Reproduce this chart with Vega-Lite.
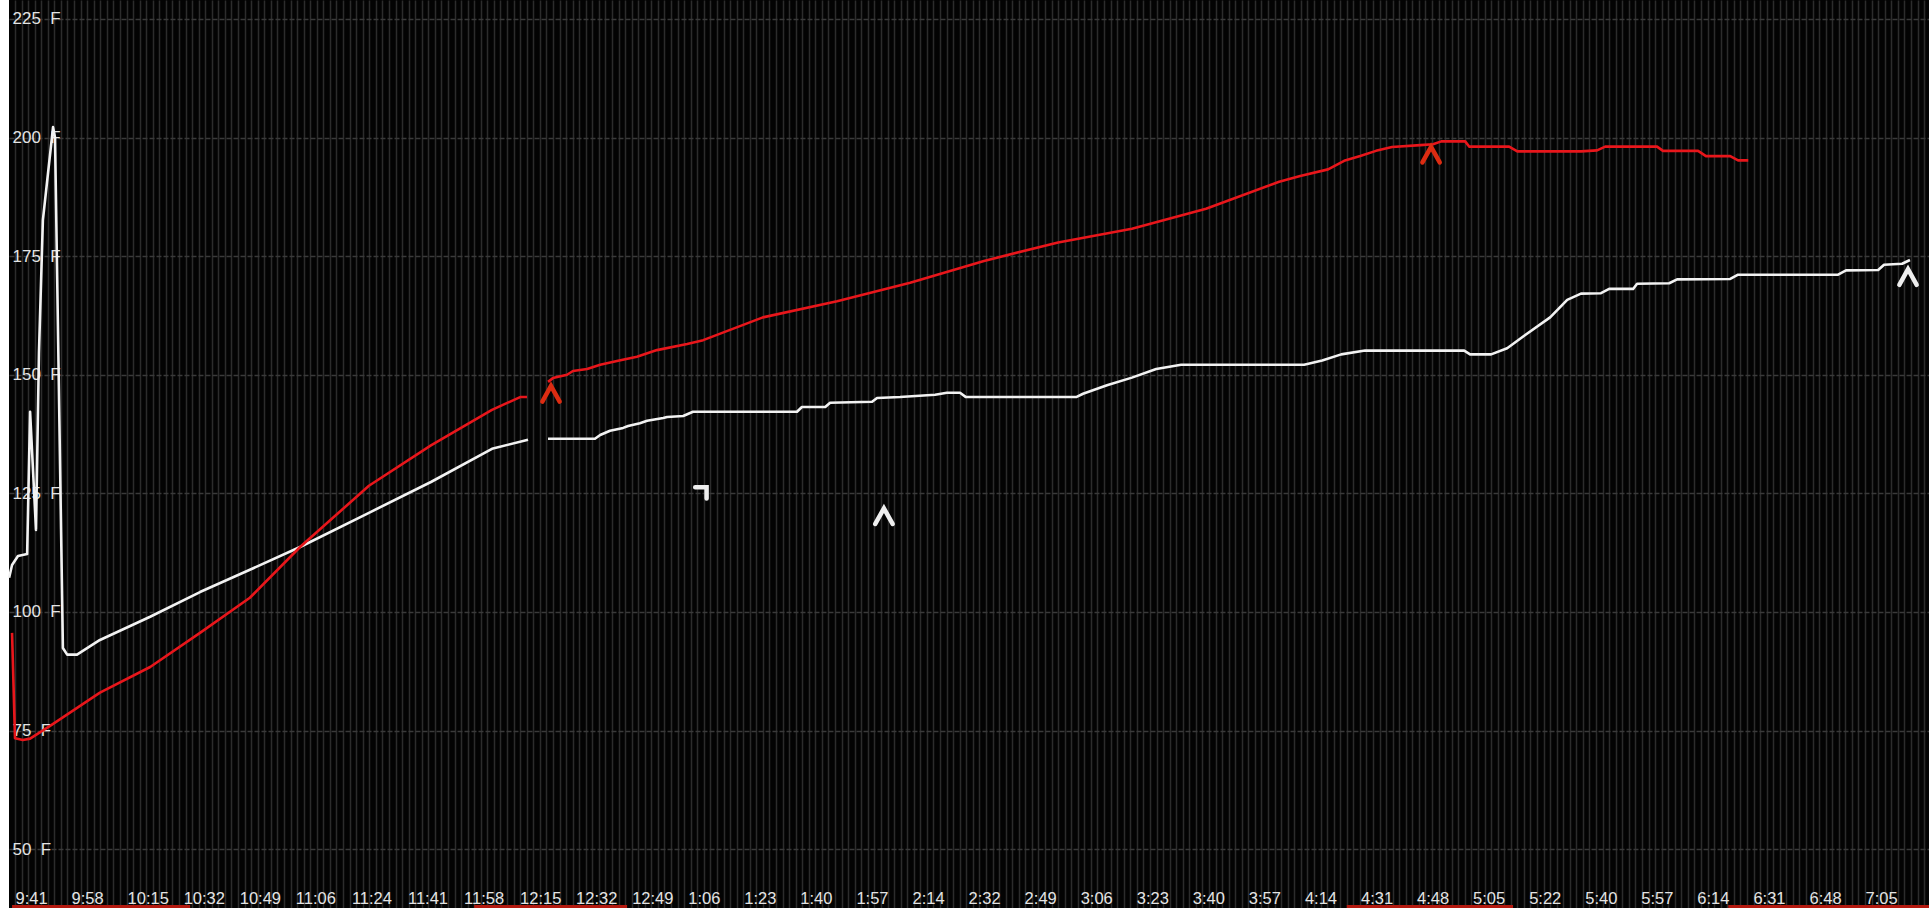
{
  "$schema": "https://vega.github.io/schema/vega-lite/v6.json",
  "width": 1920,
  "height": 908,
  "autosize": {"type": "none"},
  "padding": {"left": 9, "top": 0, "right": 0, "bottom": 0},
  "background": "#ffffff",
  "config": {"view": {"stroke": null, "fill": "#030303"}},
  "datasets": {
    "probes": [
      {"s":"white","g":"w1","m":-1.8,"v":107.2},{"s":"white","g":"w1","m":-0.9,"v":109.9},{"s":"white","g":"w1","m":0.9,"v":111.8},{"s":"white","g":"w1","m":3.7,"v":112.2},{"s":"white","g":"w1","m":4.6,"v":142.2},{"s":"white","g":"w1","m":6.4,"v":117.3},{"s":"white","g":"w1","m":7.3,"v":154.6},{"s":"white","g":"w1","m":8.5,"v":182.6},{"s":"white","g":"w1","m":11.6,"v":202.2},{"s":"white","g":"w1","m":12.2,"v":200},{"s":"white","g":"w1","m":14.6,"v":92.4},{"s":"white","g":"w1","m":15.9,"v":91},{"s":"white","g":"w1","m":18.9,"v":91},{"s":"white","g":"w1","m":25.9,"v":94.1},{"s":"white","g":"w1","m":41.2,"v":99},{"s":"white","g":"w1","m":56.4,"v":104.2},{"s":"white","g":"w1","m":71.6,"v":108.9},{"s":"white","g":"w1","m":86.9,"v":113.7},{"s":"white","g":"w1","m":107.9,"v":120.9},{"s":"white","g":"w1","m":126.8,"v":127.4},{"s":"white","g":"w1","m":145.4,"v":134.4},{"s":"white","g":"w1","m":156.4,"v":136.3},
      {"s":"white","g":"w2","m":162.5,"v":136.5},{"s":"white","g":"w2","m":176.8,"v":136.5},{"s":"white","g":"w2","m":178.4,"v":137.3},{"s":"white","g":"w2","m":181.4,"v":138.2},{"s":"white","g":"w2","m":185.4,"v":138.8},{"s":"white","g":"w2","m":186.9,"v":139.2},{"s":"white","g":"w2","m":190.5,"v":139.8},{"s":"white","g":"w2","m":192.7,"v":140.3},{"s":"white","g":"w2","m":197.6,"v":140.9},{"s":"white","g":"w2","m":198.8,"v":141.1},{"s":"white","g":"w2","m":203.7,"v":141.3},{"s":"white","g":"w2","m":206.7,"v":142.2},{"s":"white","g":"w2","m":238.4,"v":142.2},{"s":"white","g":"w2","m":239.9,"v":143.2},{"s":"white","g":"w2","m":247,"v":143.2},{"s":"white","g":"w2","m":248.5,"v":144.1},{"s":"white","g":"w2","m":261.3,"v":144.3},{"s":"white","g":"w2","m":262.8,"v":145.1},{"s":"white","g":"w2","m":269.8,"v":145.3},{"s":"white","g":"w2","m":280.5,"v":145.8},{"s":"white","g":"w2","m":284.1,"v":146.2},{"s":"white","g":"w2","m":288.1,"v":146.2},{"s":"white","g":"w2","m":289.9,"v":145.3},{"s":"white","g":"w2","m":323.5,"v":145.3},{"s":"white","g":"w2","m":325.6,"v":146},{"s":"white","g":"w2","m":332.9,"v":147.8},{"s":"white","g":"w2","m":340.5,"v":149.4},{"s":"white","g":"w2","m":347.9,"v":151.2},{"s":"white","g":"w2","m":355.5,"v":152.1},{"s":"white","g":"w2","m":393,"v":152.1},{"s":"white","g":"w2","m":398.5,"v":153},{"s":"white","g":"w2","m":404.3,"v":154.3},{"s":"white","g":"w2","m":411.6,"v":155.1},{"s":"white","g":"w2","m":441.8,"v":155.1},{"s":"white","g":"w2","m":443.6,"v":154.3},{"s":"white","g":"w2","m":450,"v":154.3},{"s":"white","g":"w2","m":454.9,"v":155.6},{"s":"white","g":"w2","m":460.4,"v":158.4},{"s":"white","g":"w2","m":468,"v":162.1},{"s":"white","g":"w2","m":473.2,"v":165.8},{"s":"white","g":"w2","m":477.4,"v":167.1},{"s":"white","g":"w2","m":483.5,"v":167.2},{"s":"white","g":"w2","m":486,"v":168.1},{"s":"white","g":"w2","m":493.3,"v":168.1},{"s":"white","g":"w2","m":494.5,"v":169.2},{"s":"white","g":"w2","m":504.3,"v":169.3},{"s":"white","g":"w2","m":506.7,"v":170.1},{"s":"white","g":"w2","m":522.9,"v":170.2},{"s":"white","g":"w2","m":525.3,"v":171.1},{"s":"white","g":"w2","m":555.8,"v":171.1},{"s":"white","g":"w2","m":558.2,"v":172},{"s":"white","g":"w2","m":568,"v":172.1},{"s":"white","g":"w2","m":569.8,"v":173.2},{"s":"white","g":"w2","m":575.3,"v":173.4},{"s":"white","g":"w2","m":577.7,"v":174.2},
      {"s":"red","g":"r1","m":-0.9,"v":95.6},{"s":"red","g":"r1","m":0,"v":73.4},{"s":"red","g":"r1","m":2.4,"v":73},{"s":"red","g":"r1","m":4.6,"v":73.3},{"s":"red","g":"r1","m":10.7,"v":76},{"s":"red","g":"r1","m":25.9,"v":83},{"s":"red","g":"r1","m":41.2,"v":88.4},{"s":"red","g":"r1","m":56.4,"v":95.6},{"s":"red","g":"r1","m":71.6,"v":103},{"s":"red","g":"r1","m":86.9,"v":113.7},{"s":"red","g":"r1","m":107.9,"v":126.6},{"s":"red","g":"r1","m":126.8,"v":135.1},{"s":"red","g":"r1","m":145.4,"v":142.6},{"s":"red","g":"r1","m":154,"v":145.3},{"s":"red","g":"r1","m":156.1,"v":145.3},
      {"s":"red","g":"r2","m":162.5,"v":148.5},{"s":"red","g":"r2","m":164,"v":149.3},{"s":"red","g":"r2","m":168.3,"v":150},{"s":"red","g":"r2","m":170.1,"v":150.8},{"s":"red","g":"r2","m":174.4,"v":151.2},{"s":"red","g":"r2","m":178.4,"v":152.1},{"s":"red","g":"r2","m":183.5,"v":152.9},{"s":"red","g":"r2","m":189.6,"v":153.8},{"s":"red","g":"r2","m":195.7,"v":155.2},{"s":"red","g":"r2","m":204.9,"v":156.5},{"s":"red","g":"r2","m":209.8,"v":157.3},{"s":"red","g":"r2","m":228,"v":162.1},{"s":"red","g":"r2","m":250.6,"v":165.5},{"s":"red","g":"r2","m":272.9,"v":169.4},{"s":"red","g":"r2","m":295.4,"v":174},{"s":"red","g":"r2","m":318,"v":177.9},{"s":"red","g":"r2","m":340.5,"v":180.8},{"s":"red","g":"r2","m":363.1,"v":185},{"s":"red","g":"r2","m":385.4,"v":190.7},{"s":"red","g":"r2","m":391.8,"v":191.9},{"s":"red","g":"r2","m":400.3,"v":193.3},{"s":"red","g":"r2","m":405.2,"v":195.1},{"s":"red","g":"r2","m":410.1,"v":196.1},{"s":"red","g":"r2","m":414.9,"v":197.2},{"s":"red","g":"r2","m":419.8,"v":198},{"s":"red","g":"r2","m":428.4,"v":198.4},{"s":"red","g":"r2","m":432.3,"v":198.6},{"s":"red","g":"r2","m":434.8,"v":199.2},{"s":"red","g":"r2","m":442.1,"v":199.2},{"s":"red","g":"r2","m":443.3,"v":198.1},{"s":"red","g":"r2","m":455.5,"v":198.1},{"s":"red","g":"r2","m":458,"v":197.1},{"s":"red","g":"r2","m":477.4,"v":197.1},{"s":"red","g":"r2","m":482.3,"v":197.3},{"s":"red","g":"r2","m":484.8,"v":198.1},{"s":"red","g":"r2","m":500.6,"v":198.1},{"s":"red","g":"r2","m":502.4,"v":197.2},{"s":"red","g":"r2","m":513.1,"v":197.2},{"s":"red","g":"r2","m":515.5,"v":196.1},{"s":"red","g":"r2","m":522.9,"v":196.1},{"s":"red","g":"r2","m":525.3,"v":195.2},{"s":"red","g":"r2","m":528.4,"v":195.2}
    ],
    "events": [
      {"s":"redmark","k":"caret","m":163.4,"v":146},
      {"s":"redmark","k":"caret","m":431.7,"v":196.4},
      {"s":"whitemark","k":"corner","m":209.1,"v":125.1},
      {"s":"whitemark","k":"caret","m":264.9,"v":120.2},
      {"s":"whitemark","k":"caret","m":577.1,"v":170.6}
    ],
    "ranges": [
      {"start": -0.9, "end": 53.4, "v": 37.6},
      {"start": 140, "end": 186.6, "v": 37.6},
      {"start": 406, "end": 456.7, "v": 37.6},
      {"start": 522.3, "end": 583.5, "v": 37.6}
    ]
  },
  "layer": [
    {
      "data": {"name": "probes"},
      "mark": {"type": "line", "strokeWidth": 2.6, "strokeJoin": "round"},
      "encoding": {
        "x": {
          "field": "m", "type": "quantitative",
          "scale": {"domain": [-1.83, 583.5], "nice": false, "zero": false},
          "axis": {
            "title": null, "grid": false, "ticks": false, "domain": false,
            "values": [0,17.09,34.18,51.27,68.36,85.45,102.55,119.64,136.73,153.82,170.91,188,205.09,222.18,239.27,256.36,273.45,290.55,307.64,324.73,341.82,358.91,376,393.09,410.18,427.27,444.36,461.45,478.55,495.64,512.73,529.82,546.91,564],
            "labelExpr": "(floor((round(datum.value)+581)/60)%12==0?12:floor((round(datum.value)+581)/60)%12) + ':' + ((round(datum.value)+581)%60<10?'0':'') + ((round(datum.value)+581)%60)",
            "labelAlign": "left", "labelBaseline": "alphabetic", "labelPadding": -5,
            "labelFont": "Liberation Sans", "labelFontSize": 16.5, "labelColor": "#e4e4e4",
            "labelOverlap": false, "labelFlush": false, "labelBound": false
          }
        },
        "y": {
          "field": "v", "type": "quantitative",
          "scale": {"domain": [37.6, 229], "nice": false, "zero": false},
          "axis": {
            "title": null, "ticks": false, "domain": false, "zindex": 0,
            "values": [50,75,100,125,150,175,200,225],
            "labelExpr": "datum.value + '\u00a0\u00a0F'",
            "labelAlign": "left", "labelPadding": -3,
            "labelFont": "Liberation Sans", "labelFontSize": 17, "labelColor": "#e4e4e4",
            "labelOverlap": false, "labelFlush": false, "labelBound": false,
            "grid": true, "gridColor": "#3a3a3a", "gridWidth": 1.5, "gridDash": [5, 2]
          }
        },
        "color": {
          "field": "s", "type": "nominal",
          "scale": {"domain": ["red", "white", "redmark", "whitemark"], "range": ["#e8161b", "#f2f2f2", "#dc2c12", "#eeeeee"]},
          "legend": null
        },
        "detail": {"field": "g", "type": "nominal"}
      }
    },
    {
      "data": {"name": "ranges"},
      "mark": {"type": "rule", "strokeWidth": 6, "color": "#b3190f"},
      "encoding": {
        "x": {"field": "start", "type": "quantitative", "axis": null},
        "x2": {"field": "end"},
        "y": {"field": "v", "type": "quantitative"}
      }
    },
    {
      "data": {"name": "events"},
      "mark": {"type": "point", "filled": false, "strokeWidth": 4.5, "strokeCap": "round", "strokeJoin": "miter", "opacity": 1},
      "encoding": {
        "x": {
          "field": "m", "type": "quantitative",
          "axis": {
            "orient": "top", "title": null, "labels": false, "ticks": false, "domain": false,
            "grid": true, "tickCount": 290, "gridColor": "#2c2c2c", "gridWidth": 1.5
          }
        },
        "y": {
          "field": "v", "type": "quantitative",
          "axis": {
            "title": null, "ticks": false, "domain": false, "zindex": 0,
            "values": [50,75,100,125,150,175,200,225],
            "labelExpr": "datum.value + '\u00a0\u00a0F'",
            "labelAlign": "left", "labelPadding": -3,
            "labelFont": "Liberation Sans", "labelFontSize": 17, "labelColor": "#e4e4e4",
            "labelOverlap": false, "labelFlush": false, "labelBound": false,
            "grid": true, "gridColor": "#3a3a3a", "gridWidth": 1.5, "gridDash": [5, 2]
          }
        },
        "color": {
          "field": "s", "type": "nominal",
          "scale": {"domain": ["red", "white", "redmark", "whitemark"], "range": ["#e8161b", "#f2f2f2", "#dc2c12", "#eeeeee"]},
          "legend": null
        },
        "shape": {
          "field": "k", "type": "nominal",
          "scale": {"domain": ["caret", "corner"], "range": ["M-1,0.9L0,-0.9L1,0.9", "M-1,-1L1,-1L1,1"]},
          "legend": null
        },
        "size": {
          "field": "k", "type": "ordinal",
          "scale": {"domain": ["caret", "corner"], "range": [300, 130]},
          "legend": null
        }
      }
    }
  ],
  "resolve": {"axis": {"x": "independent"}}
}
